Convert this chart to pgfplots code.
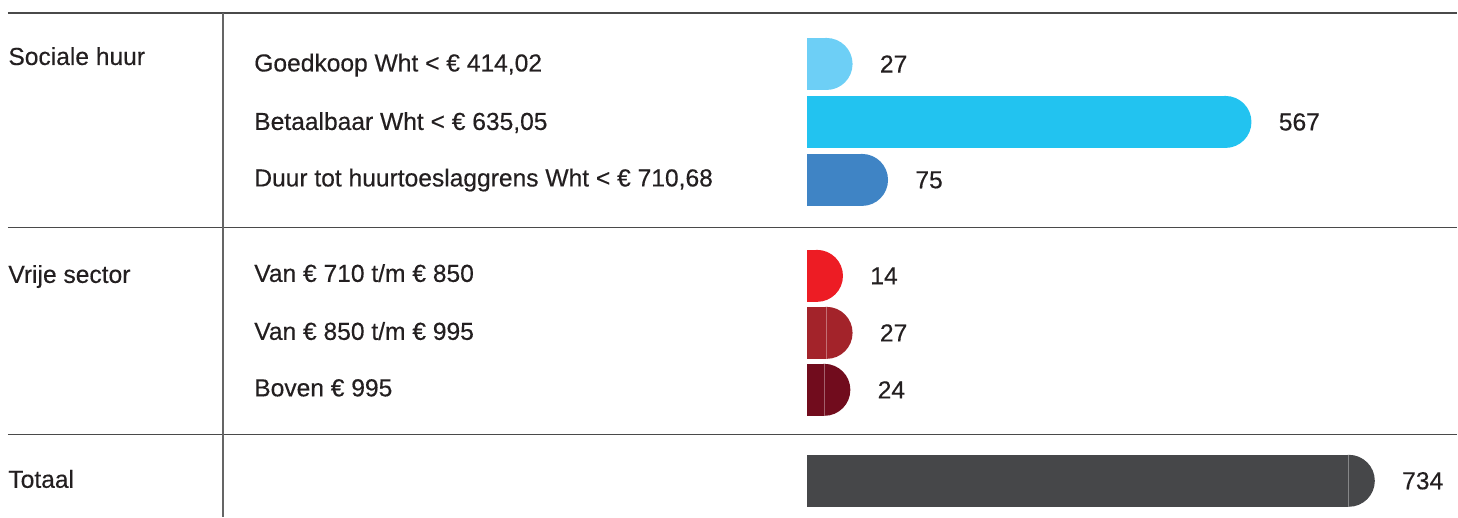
\documentclass[border=0pt]{standalone}
\usepackage{fontspec}
\setmainfont{Liberation Sans}[FakeBold=0.35]
\usepackage{pgfplots}
\pgfplotsset{compat=1.18}
\definecolor{txt}{HTML}{231F20}
\definecolor{rule}{HTML}{4A4A4A}
\definecolor{cA}{HTML}{6DCFF6}
\definecolor{cB}{HTML}{22C3F0}
\definecolor{cC}{HTML}{3F84C5}
\definecolor{cD}{HTML}{ED1C24}
\definecolor{cE}{HTML}{A3232A}
\definecolor{cF}{HTML}{710C1D}
\definecolor{cG}{HTML}{464749}
\pgfdeclareplotmark{halfcap}{%
  \pgfpathmoveto{\pgfqpoint{-0.6pt}{-13pt}}%
  \pgfpathlineto{\pgfqpoint{0pt}{-13pt}}%
  \pgfpatharc{-90}{90}{13pt}%
  \pgfpathlineto{\pgfqpoint{-0.6pt}{13pt}}%
  \pgfpathclose\pgfusepathqfill}
\pgfdeclareplotmark{halfcapdiv}{%
  \pgfpathmoveto{\pgfqpoint{-0.6pt}{-13pt}}%
  \pgfpathlineto{\pgfqpoint{0pt}{-13pt}}%
  \pgfpatharc{-90}{90}{13pt}%
  \pgfpathlineto{\pgfqpoint{-0.6pt}{13pt}}%
  \pgfpathclose\pgfusepathqfill
  \pgfsetstrokecolor{white}\pgfsetstrokeopacity{0.35}\pgfsetlinewidth{0.5pt}%
  \pgfpathmoveto{\pgfqpoint{0pt}{-13pt}}\pgfpathlineto{\pgfqpoint{0pt}{13pt}}\pgfusepathqstroke}
\begin{document}
\begin{tikzpicture}[font=\fontsize{12.3}{14}\selectfont, text=txt]
\begin{axis}[scale only axis, width=729pt, height=258.5pt, hide axis,
  xmin=-1092, xmax=881, ymin=0, ymax=517, y dir=reverse, clip=false,
  bar width=26pt, /pgf/number format/assume math mode=true,
  barstyle/.style={xbar, draw=none, fill=#1, point meta=x,
    nodes near coords, nodes near coords align=horizontal,
    every node near coord/.style={anchor=west, xshift=26.5pt, inner sep=0pt, text=txt, font=\fontsize{12.3}{14}\selectfont}},
  capstyle/.style={only marks, mark=halfcap, mark options={fill=#1, draw=none}},
  capdivstyle/.style={only marks, mark=halfcapdiv, mark options={fill=#1, draw=none}}]
\addplot[barstyle=cA] coordinates {(27,64)};
\addplot[capstyle=cA] coordinates {(27,64)};
\addplot[barstyle=cB] coordinates {(567,122)};
\addplot[capstyle=cB] coordinates {(567,122)};
\addplot[barstyle=cC] coordinates {(75,180)};
\addplot[capstyle=cC] coordinates {(75,180)};
\addplot[barstyle=cD] coordinates {(14,276)};
\addplot[capstyle=cD] coordinates {(14,276)};
\addplot[barstyle=cE] coordinates {(27,333)};
\addplot[capdivstyle=cE] coordinates {(27,333)};
\addplot[barstyle=cF] coordinates {(24,390)};
\addplot[capdivstyle=cF] coordinates {(24,390)};
\addplot[barstyle=cG] coordinates {(734,481)};
\addplot[capdivstyle=cG] coordinates {(734,481)};
\end{axis}
\begin{scope}[x=0.5pt, y=-0.5pt, shift={(0,258.5pt)}]
\path (0,0) rectangle (1458,517);
\draw[rule, line width=0.6pt] (8,13) -- (1458,13);
\draw[rule, line width=0.6pt] (8,228) -- (1458,228);
\draw[rule, line width=0.6pt] (8,435) -- (1458,435);
\draw[rule!85, line width=0.6pt] (223,13) -- (223,517);
\node[anchor=base west, inner sep=0pt] at (8,65) {Sociale huur};
\node[anchor=base west, inner sep=0pt] at (8,283) {Vrije sector};
\node[anchor=base west, inner sep=0pt] at (8,488) {Totaal};
\node[anchor=base west, inner sep=0pt] at (254,71.5) {Goedkoop Wht < € 414,02};
\node[anchor=base west, inner sep=0pt] at (254,130) {Betaalbaar Wht < € 635,05};
\node[anchor=base west, inner sep=0pt] at (254,186.5) {Duur tot huurtoeslaggrens Wht < € 710,68};
\node[anchor=base west, inner sep=0pt] at (254,282) {Van € 710 t/m € 850};
\node[anchor=base west, inner sep=0pt] at (254,340) {Van € 850 t/m € 995};
\node[anchor=base west, inner sep=0pt] at (254,396.5) {Boven € 995};
\end{scope}
\end{tikzpicture}
\end{document}
